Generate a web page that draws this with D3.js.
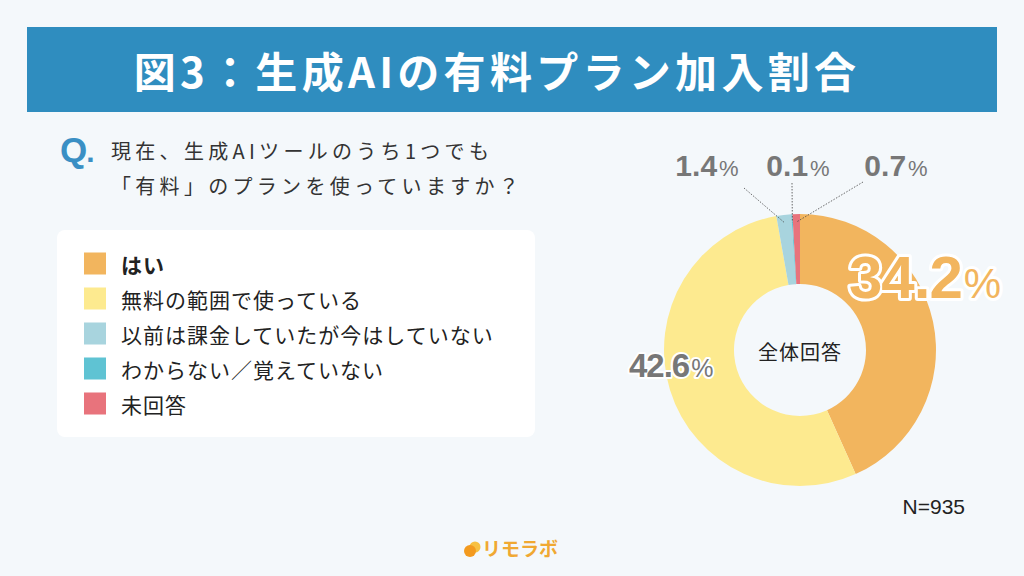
<!DOCTYPE html>
<html><head><meta charset="utf-8">
<script src="https://cdn.jsdelivr.net/npm/d3@7"></script>
<style>
html,body{margin:0;padding:0;background:#f4f8fb;}
svg{display:block;}
</style></head>
<body>
<script>
// ---- data ----
const title = "図3：生成AIの有料プラン加入割合";
const questionLines = ["現在、生成AIツールのうち1つでも", "「有料」のプランを使っていますか？"];
const categories = ["はい", "無料の範囲で使っている", "以前は課金していたが今はしていない", "わからない／覚えていない", "未回答"];
const values = [34.2, 42.6, 1.4, 0.1, 0.7];
const colors = ["#f2b55e", "#fdea8f", "#a8d4de", "#5fc3d3", "#e8737c"];
const centerLabel = "全体回答";
const sampleNote = "N=935";
const brand = "リモラボ";

const W = 1024, H = 576;
const svg = d3.select("body").append("svg").attr("width", W).attr("height", H);
const JP = "'Noto Sans CJK JP','Noto Sans',sans-serif";
const NUM = "'Liberation Sans',Arial,sans-serif";

svg.append("rect").attr("width", W).attr("height", H).attr("fill", "#f4f8fb");

// title banner
svg.append("rect").attr("x", 27).attr("y", 27).attr("width", 970).attr("height", 85).attr("fill", "#2f8dbf");
svg.append("text").attr("x", 497).attr("y", 88).attr("text-anchor", "middle")
  .attr("font-family", JP).attr("font-weight", 700).attr("font-size", 42).attr("letter-spacing", 4.3)
  .attr("fill", "#fff").text(title);

// question
const q = svg.append("text").attr("x", 60).attr("y", 162).attr("font-family", NUM).attr("font-weight", 700).attr("fill", "#3a8fc4");
q.append("tspan").attr("font-size", 35).text("Q");
q.append("tspan").attr("font-size", 30).attr("dx", -1).text(".");
questionLines.forEach((l, i) => {
  svg.append("text").attr("x", 111).attr("y", 159 + i * 35)
    .attr("font-family", JP).attr("font-size", 20).attr("letter-spacing", 4.3)
    .attr("fill", "#333").text(l);
});

// legend
svg.append("rect").attr("x", 57).attr("y", 230).attr("width", 478).attr("height", 207).attr("rx", 8).attr("fill", "#fff");
const lg = svg.append("g");
const legY = d3.scalePoint().domain(categories).range([263.5, 403.5]);
categories.forEach((c, i) => {
  lg.append("rect").attr("x", 84).attr("y", legY(c) - 11).attr("width", 22).attr("height", 22).attr("fill", colors[i]);
  lg.append("text").attr("x", 121).attr("y", legY(c)).attr("dominant-baseline", "central")
    .attr("font-family", JP).attr("font-size", 21).attr("letter-spacing", 1)
    .attr("font-weight", i === 0 ? 700 : 400).attr("fill", "#222").text(c);
});

// donut
const cx = 800, cy = 350, R = 136, r0 = 66;
const pie = d3.pie().sort(null).value(d => d);
const arcs = pie(values);
const arc = d3.arc().innerRadius(r0).outerRadius(R);
const g = svg.append("g").attr("transform", `translate(${cx},${cy})`);
g.selectAll("path").data(arcs).enter().append("path").attr("d", arc).attr("fill", (d, i) => colors[i]);
g.append("text").attr("x", 0).attr("y", 1).attr("text-anchor", "middle").attr("dominant-baseline", "central")
  .attr("font-family", JP).attr("font-size", 20).attr("letter-spacing", 1).attr("fill", "#222").text(centerLabel);

// big labels
function bigLabel(x, y, v, size, pctSize, fill, halo) {
  const t = svg.append("text").attr("x", x).attr("y", y).attr("font-family", NUM)
    .attr("fill", fill).attr("stroke", "#fff").attr("stroke-width", halo).attr("stroke-linejoin", "round")
    .attr("paint-order", "stroke");
  t.append("tspan").attr("font-weight", 700).attr("font-size", size).attr("letter-spacing", -1).text(v);
  t.append("tspan").attr("font-size", pctSize).attr("dx", 2).text("%");
}
bigLabel(cx + 49, cy - 52, values[0].toFixed(1), 60, 42, "#f2b55e", 6);
bigLabel(cx - 171, cy + 27, values[1].toFixed(1), 33, 25, "#777", 4);

// small labels with leaders
const smallX = [707, 798, 896];
const leaderStart = [[744, 188], [792, 183], [863, 182]];
const leaderR = 128;
[2, 3, 4].forEach((idx, k) => {
  const a = arcs[idx];
  const mid = (a.startAngle + a.endAngle) / 2;
  const px = cx + leaderR * Math.sin(mid), py = cy - leaderR * Math.cos(mid);
  svg.append("line").attr("x1", leaderStart[k][0]).attr("y1", leaderStart[k][1])
    .attr("x2", px).attr("y2", py)
    .attr("stroke", "#444").attr("stroke-width", 0.8).attr("stroke-dasharray", "1.5,1.5");
  const t = svg.append("text").attr("x", smallX[k]).attr("y", 176).attr("text-anchor", "middle")
    .attr("font-family", NUM).attr("fill", "#777");
  t.append("tspan").attr("font-weight", 700).attr("font-size", 30).text(values[idx].toFixed(1));
  t.append("tspan").attr("font-size", 22).attr("dx", 2).text("%");
});

// N note
svg.append("text").attr("x", 965).attr("y", 514).attr("text-anchor", "end")
  .attr("font-family", NUM).attr("font-size", 21).attr("fill", "#222").text(sampleNote);

// brand
svg.append("circle").attr("cx", 475).attr("cy", 547).attr("r", 5.5).attr("fill", "#f7c040");
svg.append("circle").attr("cx", 470).attr("cy", 551).attr("r", 6).attr("fill", "#f39a1e");
svg.append("text").attr("x", 482).attr("y", 556).attr("font-family", JP).attr("font-weight", 700)
  .attr("font-size", 19).attr("fill", "#f0a832").text(brand);
</script>
</body></html>
